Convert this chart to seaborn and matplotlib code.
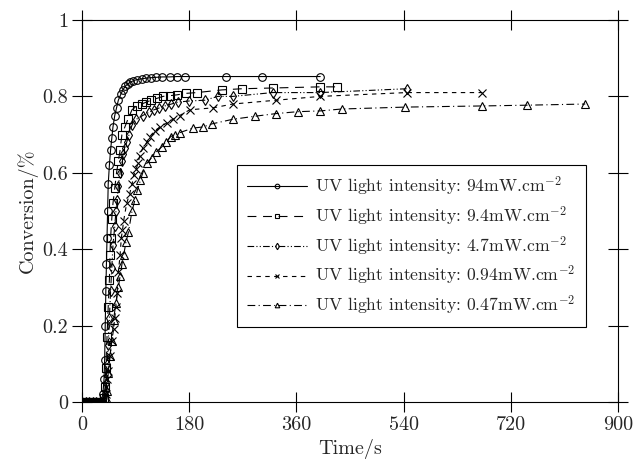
import matplotlib
matplotlib.use("Agg")
import matplotlib.pyplot as plt
import seaborn as sns
import pandas as pd

# Photo-polymerisation conversion vs. time at five UV light intensities
labels = [
    "UV light intensity: 94mW.cm$^{-2}$",
    "UV light intensity: 9.4mW.cm$^{-2}$",
    "UV light intensity: 4.7mW.cm$^{-2}$",
    "UV light intensity: 0.94mW.cm$^{-2}$",
    "UV light intensity: 0.47mW.cm$^{-2}$",
]

t_94 = [0, 4, 8, 12, 16, 20, 24, 28, 32, 35, 37, 38, 39, 40, 41, 42, 43, 44,
        46, 48, 50, 52, 55, 58, 61, 65, 69, 73, 77, 81, 86, 92, 100, 108, 116,
        125, 135, 147, 160, 173, 241, 303, 400]
c_94 = [0, 0, 0, 0, 0, 0, 0, 0, 0, 0.02, 0.06, 0.11, 0.20, 0.29, 0.36, 0.43,
        0.50, 0.57, 0.62, 0.66, 0.69, 0.72, 0.75, 0.77, 0.79, 0.805, 0.818,
        0.827, 0.833, 0.837, 0.841, 0.844, 0.846, 0.848, 0.849, 0.850, 0.851,
        0.851, 0.852, 0.852, 0.852, 0.852, 0.852]

t_9_4 = [0, 5, 10, 15, 20, 25, 30, 34, 37, 39, 40, 42, 44, 46, 47, 48, 50, 52,
         55, 58, 61, 64, 67, 72, 77, 84, 92, 100, 108, 116, 126, 136, 148, 159,
         175, 193, 235, 268, 320, 400, 428]
c_9_4 = [0, 0, 0, 0, 0, 0, 0, 0, 0.01, 0.04, 0.09, 0.17, 0.25, 0.32, 0.385,
         0.43, 0.48, 0.52, 0.56, 0.60, 0.63, 0.66, 0.70, 0.72, 0.74, 0.765,
         0.775, 0.78, 0.785, 0.79, 0.795, 0.80, 0.802, 0.804, 0.808, 0.81,
         0.817, 0.82, 0.822, 0.825, 0.825]

t_4_7 = [0, 6, 12, 18, 24, 30, 35, 38, 40, 42, 44, 46, 48, 50, 52, 55, 57, 59,
         61, 64, 67, 69, 72, 75, 79, 84, 91, 102, 112, 121, 130, 139, 150, 161,
         180, 206, 228, 253, 320, 400, 545]
c_4_7 = [0, 0, 0, 0, 0, 0, 0, 0.02, 0.05, 0.10, 0.15, 0.22, 0.29, 0.35, 0.41,
         0.46, 0.50, 0.53, 0.565, 0.60, 0.63, 0.65, 0.665, 0.68, 0.70, 0.725,
         0.74, 0.75, 0.758, 0.765, 0.77, 0.775, 0.78, 0.785, 0.788, 0.79, 0.80,
         0.80, 0.81, 0.81, 0.82]

t_0_94 = [0, 6, 12, 18, 24, 30, 36, 40, 42, 44, 47, 50, 53, 55, 57, 59, 61, 64,
          66, 68, 70, 75, 80, 84, 87, 91, 94, 97, 102, 109, 114, 122, 131, 142,
          153, 164, 181, 220, 253, 326, 400, 545, 672]
c_0_94 = [0, 0, 0, 0, 0, 0, 0, 0.02, 0.06, 0.08, 0.12, 0.16, 0.19, 0.22, 0.25,
          0.285, 0.34, 0.385, 0.43, 0.45, 0.475, 0.52, 0.545, 0.57, 0.595, 0.61,
          0.625, 0.645, 0.665, 0.68, 0.695, 0.71, 0.72, 0.73, 0.74, 0.75, 0.765,
          0.77, 0.78, 0.79, 0.80, 0.81, 0.81]

t_0_47 = [0, 6, 12, 18, 24, 30, 36, 40, 42, 44, 47, 50, 53, 57, 61, 64, 67, 70,
          74, 78, 84, 89, 93, 98, 102, 109, 117, 125, 134, 141, 149, 156, 164,
          186, 203, 218, 253, 290, 326, 362, 400, 436, 543, 672, 747, 845]
c_0_47 = [0, 0, 0, 0, 0, 0, 0, 0.01, 0.03, 0.075, 0.12, 0.16, 0.215, 0.26, 0.30,
          0.33, 0.36, 0.385, 0.42, 0.445, 0.50, 0.53, 0.555, 0.58, 0.60, 0.625,
          0.64, 0.655, 0.668, 0.68, 0.695, 0.70, 0.705, 0.717, 0.72, 0.728, 0.74,
          0.748, 0.755, 0.76, 0.762, 0.767, 0.772, 0.775, 0.777, 0.78]

x_ticks = [0, 180, 360, 540, 720, 900]
y_ticks = [0, 0.2, 0.4, 0.6, 0.8, 1]
y_ticklabels = ["0", "0.2", "0.4", "0.6", "0.8", "1"]

series = [(t_94, c_94), (t_9_4, c_9_4), (t_4_7, c_4_7),
          (t_0_94, c_0_94), (t_0_47, c_0_47)]
markers = ["o", "s", "d", "x", "^"]
linestyles = ["-", (0, (8, 6)), (0, (6, 2, 1, 2, 1, 2)), (0, (4, 4)),
              (0, (7, 3, 1, 3))]

sns.set_style("ticks")
plt.rcParams["font.family"] = ["cmr10"]
plt.rcParams["mathtext.fontset"] = "cm"
plt.rcParams["axes.formatter.use_mathtext"] = True

fig = plt.figure(figsize=(6.37, 4.67), dpi=100)
ax = fig.add_axes([82 / 637, 1 - 402 / 467, 536 / 637, 382 / 467])

for (t, c), lab, mk, ls in zip(series, labels, markers, linestyles):
    df = pd.DataFrame({"Time": t, "Conversion": c})
    sns.lineplot(data=df, x="Time", y="Conversion", ax=ax, color="black",
                 linestyle=ls, linewidth=0.8, marker=mk, markersize=5.5,
                 markerfacecolor="none", markeredgecolor="black",
                 markeredgewidth=0.8, estimator=None, sort=False, label=lab)

ax.set_xlim(0, 900)
ax.set_ylim(0, 1)
ax.set_xticks(x_ticks)
ax.set_xticklabels([str(v) for v in x_ticks])
ax.set_yticks(y_ticks)
ax.set_yticklabels(y_ticklabels)
ax.set_xlabel("Time/s", fontsize=14.5, labelpad=4)
ax.set_ylabel("Conversion/%", fontsize=14.5, labelpad=3)

ax.tick_params(axis="both", which="major", direction="inout", length=14,
               width=0.8, labelsize=14.5, top=True, right=True, color="black",
               pad=3)
for sp in ax.spines.values():
    sp.set_visible(True)
    sp.set_linewidth(0.8)
    sp.set_color("black")

handles, labs = ax.get_legend_handles_labels()
leg = ax.legend(handles, labs, loc="upper left",
                bbox_to_anchor=(0.289, 0.620), fontsize=12.7,
                frameon=True, fancybox=False, edgecolor="black",
                framealpha=1, handlelength=3.4, markerscale=0.6,
                labelspacing=0.36, borderpad=0.55, handletextpad=0.5,
                borderaxespad=0)
leg.get_frame().set_linewidth(0.8)

fig.savefig("out.png", dpi=100)
